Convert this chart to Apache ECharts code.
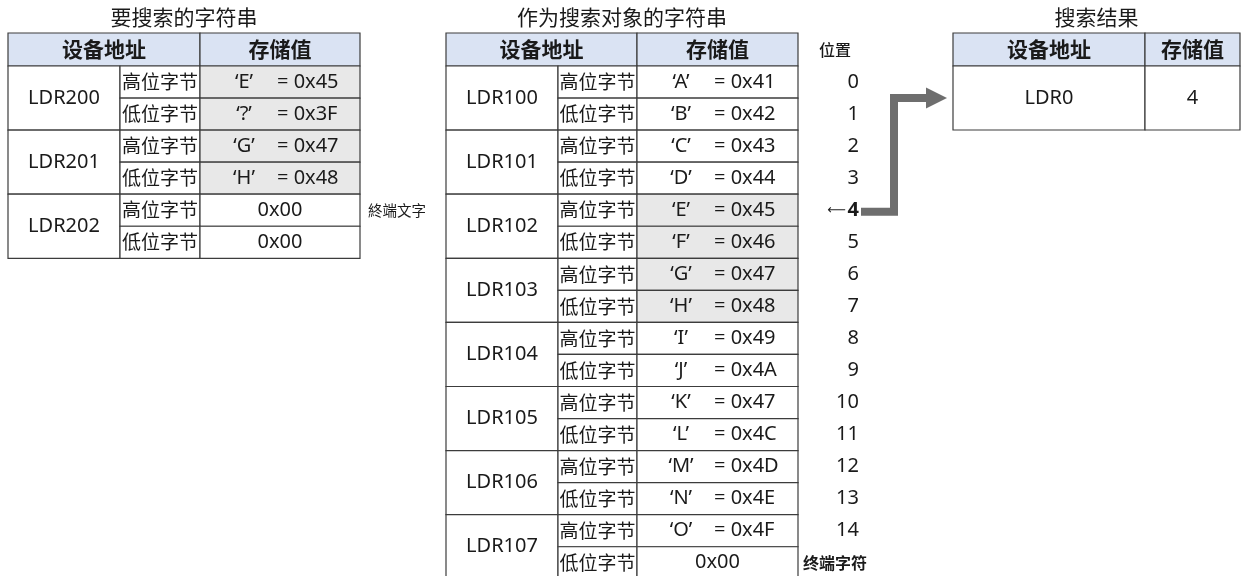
<!DOCTYPE html>
<html><head><meta charset="utf-8">
<script src="https://cdn.jsdelivr.net/npm/echarts@6/dist/echarts.min.js"></script>
<style>html,body{margin:0;padding:0;background:#fff}#c{width:1245px;height:576px}</style>
</head><body><div id="c"></div>
<script>
// ---------- data ----------
const titles = ['要搜索的字符串', '作为搜索对象的字符串', '搜索结果'];
const headers = ['设备地址', '存储值'];
const byteNames = ['高位字节', '低位字节'];
const searchAddrs = ['LDR200', 'LDR201', 'LDR202'];
const searchChars = ['E', '?', 'G', 'H', '', ''];
const searchCodes = ['0x45', '0x3F', '0x47', '0x48', '0x00', '0x00'];
const targetAddrs = ['LDR100', 'LDR101', 'LDR102', 'LDR103', 'LDR104', 'LDR105', 'LDR106', 'LDR107'];
const targetChars = ['A', 'B', 'C', 'D', 'E', 'F', 'G', 'H', 'I', 'J', 'K', 'L', 'M', 'N', 'O', ''];
const targetCodes = ['0x41', '0x42', '0x43', '0x44', '0x45', '0x46', '0x47', '0x48', '0x49', '0x4A', '0x47', '0x4C', '0x4D', '0x4E', '0x4F', '0x00'];
const positions = ['0', '1', '2', '3', '4', '5', '6', '7', '8', '9', '10', '11', '12', '13', '14'];
const positionHeader = '位置';
const terminatorNote = '終端文字';
const terminatorLabel = '终端字符';
const matchPos = 4;
const resultAddr = 'LDR0';
const resultValue = '4';

// ---------- layout ----------
const FONT = "'Noto Sans','Noto Sans CJK SC',sans-serif";
const CJK = "'Noto Sans CJK SC',sans-serif";
const L = {
  titleY: 17, headTop: 33, headBot: 66, rowH: 32.05,
  leftCols: [8, 120, 200, 360],
  midCols: [446, 558, 637, 798],
  rightCols: [953, 1145, 1240], resultBot: 130,
  posRight: 859, posHeadX: 835, noteX: 368,
  arrowX: 894, arrowHeadX: 926, arrowTipX: 947,
  quoteDX: 44, eqDX: 77
};
const SZ = { latin: 20, cjk: 19, head: 21, title: 21, pos: 20, posHead: 16, note: 14.5 };
const C = { border: '#3c3c3c', head: '#dae3f3', hl: '#e8e8e8', text: '#1a1a1a', arrow: '#6e6e6e' };

const shapes = [];
function rect(x0, y0, x1, y1, fill) { shapes.push({ t: 'rect', x0, y0, x1, y1, fill }); }
function txt(x, y, s, o) { shapes.push(Object.assign({ t: 'text', x, y, s }, o || {})); }

const searchLen = searchChars.filter(c => c).length;

function table(cols, addrs, chars, codes, hlRows) {
  const [a, b, c, d] = cols;
  rect(a, L.headTop, c, L.headBot, C.head);
  rect(c, L.headTop, d, L.headBot, C.head);
  txt((a + c) / 2, (L.headTop + L.headBot) / 2, headers[0], { bold: true, size: SZ.head, font: CJK });
  txt((c + d) / 2, (L.headTop + L.headBot) / 2, headers[1], { bold: true, size: SZ.head, font: CJK });
  addrs.forEach((ad, i) => {
    const y0 = L.headBot + i * 2 * L.rowH, y1 = y0 + 2 * L.rowH;
    rect(a, y0, b, y1, '#fff');
    txt((a + b) / 2, (y0 + y1) / 2, ad, { size: SZ.latin });
  });
  codes.forEach((code, r) => {
    const y0 = L.headBot + r * L.rowH, y1 = y0 + L.rowH, ym = (y0 + y1) / 2;
    rect(b, y0, c, y1, '#fff');
    txt((b + c) / 2, ym, byteNames[r % 2], { size: SZ.cjk, font: CJK });
    rect(c, y0, d, y1, hlRows(r) ? C.hl : '#fff');
    if (chars[r]) {
      txt(c + L.quoteDX, ym, '\u2018' + chars[r] + '\u2019', { size: SZ.latin });
      txt(c + L.eqDX, ym, '= ' + code, { size: SZ.latin, align: 'left' });
    } else {
      txt((c + d) / 2, ym, code, { size: SZ.latin });
    }
  });
}

// titles
txt((L.leftCols[0] + L.leftCols[3]) / 2, L.titleY, titles[0], { size: SZ.title, font: CJK });
txt((L.midCols[0] + L.midCols[3]) / 2, L.titleY, titles[1], { size: SZ.title, font: CJK });
txt((L.rightCols[0] + L.rightCols[2]) / 2, L.titleY, titles[2], { size: SZ.title, font: CJK });

table(L.leftCols, searchAddrs, searchChars, searchCodes, r => r < searchLen);
table(L.midCols, targetAddrs, targetChars, targetCodes, r => r >= matchPos && r < matchPos + searchLen);

// terminator note beside left table
txt(L.noteX, L.headBot + (searchLen + 0.5) * L.rowH, terminatorNote, { size: SZ.note, font: CJK, align: 'left' });

// position column
txt(L.posHeadX, (L.headTop + L.headBot) / 2, positionHeader, { size: SZ.posHead, font: CJK, weight: 500 });
positions.forEach((p, r) => {
  const ym = L.headBot + (r + 0.5) * L.rowH;
  if (r === matchPos) {
    txt(L.posRight - 13, ym + 0.5, '\u27F5', { size: 13, align: 'right', font: "'DejaVu Sans',sans-serif" });
    txt(L.posRight, ym, p, { size: SZ.pos, align: 'right', bold: true });
  } else {
    txt(L.posRight, ym, p, { size: SZ.pos, align: 'right' });
  }
});
txt(L.posHeadX, L.headBot + (targetCodes.length - 0.5) * L.rowH, terminatorLabel, { size: SZ.posHead, font: CJK, bold: true });

// result table
const [r0, r1, r2] = L.rightCols;
rect(r0, L.headTop, r1, L.headBot, C.head);
rect(r1, L.headTop, r2, L.headBot, C.head);
txt((r0 + r1) / 2, (L.headTop + L.headBot) / 2, headers[0], { bold: true, size: SZ.head, font: CJK });
txt((r1 + r2) / 2, (L.headTop + L.headBot) / 2, headers[1], { bold: true, size: SZ.head, font: CJK });
rect(r0, L.headBot, r1, L.resultBot, '#fff');
rect(r1, L.headBot, r2, L.resultBot, '#fff');
txt((r0 + r1) / 2, (L.headBot + L.resultBot) / 2, resultAddr, { size: SZ.latin });
txt((r1 + r2) / 2, (L.headBot + L.resultBot) / 2, resultValue, { size: SZ.latin });

// connecting arrow from match position to result
const ay0 = L.headBot + (matchPos + 0.5) * L.rowH + 1.5;
const ay1 = (L.headBot + L.resultBot) / 2;
shapes.push({ t: 'poly', pts: [[L.posRight + 2, ay0], [L.arrowX, ay0], [L.arrowX, ay1], [L.arrowHeadX + 1, ay1]] });
shapes.push({ t: 'head', pts: [[L.arrowHeadX, ay1 - 10.5], [L.arrowTipX, ay1], [L.arrowHeadX, ay1 + 10.5]] });

const chart = echarts.init(document.getElementById('c'), null, { renderer: 'canvas' });
chart.setOption({
  animation: false,
  backgroundColor: '#fff',
  grid: { left: 0, right: 0, top: 0, bottom: 0 },
  xAxis: { type: 'value', min: 0, max: 1245, show: false },
  yAxis: { type: 'value', min: 0, max: 576, inverse: true, show: false },
  series: [{
    type: 'custom',
    coordinateSystem: 'cartesian2d',
    clip: false,
    data: shapes.map((s, i) => [i]),
    renderItem(params, api) {
      const s = shapes[params.dataIndex];
      if (s.t === 'rect') {
        const p0 = api.coord([s.x0, s.y0]), p1 = api.coord([s.x1, s.y1]);
        return { type: 'rect', shape: { x: p0[0], y: p0[1], width: p1[0] - p0[0], height: p1[1] - p0[1] },
          style: { fill: s.fill, stroke: C.border, lineWidth: 1.2 } };
      }
      if (s.t === 'text') {
        const p = api.coord([s.x, s.y]);
        return { type: 'text', x: p[0], y: p[1], style: {
          text: s.s, fill: C.text, align: s.align || 'center', verticalAlign: 'middle',
          font: (s.bold ? 'bold ' : (s.weight ? s.weight + ' ' : '')) + s.size + 'px ' + (s.font || FONT) } };
      }
      if (s.t === 'poly') {
        return { type: 'polyline', shape: { points: s.pts.map(p => api.coord(p)) },
          style: { stroke: C.arrow, lineWidth: 8, fill: null, lineJoin: 'miter' } };
      }
      if (s.t === 'head') {
        return { type: 'polygon', shape: { points: s.pts.map(p => api.coord(p)) }, style: { fill: C.arrow } };
      }
    }
  }]
});
</script></body></html>
